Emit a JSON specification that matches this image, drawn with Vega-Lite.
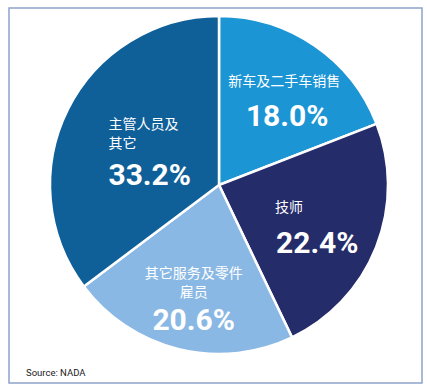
{
  "$schema": "https://vega.github.io/schema/vega-lite/v6.json",
  "width": 413,
  "height": 375,
  "padding": {"left": 8, "top": 7, "right": 6, "bottom": 5},
  "background": "white",
  "config": {"view": {"stroke": null}},
  "title": {
    "text": "Source: NADA",
    "orient": "bottom",
    "anchor": "start",
    "frame": "group",
    "offset": -16,
    "dx": 17,
    "font": "Roboto",
    "fontSize": 9.5,
    "letterSpacing": -0.6,
    "fontWeight": "normal",
    "color": "#1a1a1a"
  },
  "data": {
    "values": [
      {"idx": 1, "name": "新车及二手车销售", "v": 18.0, "pct": "18.0%"},
      {"idx": 2, "name": "技师", "v": 22.4, "pct": "22.4%"},
      {"idx": 3, "name": "其它服务及零件\n雇员", "v": 20.6, "pct": "20.6%"},
      {"idx": 4, "name": "主管人员及\n 其它", "v": 33.2, "pct": "33.2%"}
    ]
  },
  "layer": [
    {
      "data": {"values": [{}]},
      "mark": {"type": "rect", "fill": "transparent", "stroke": "#8ea3cc", "strokeWidth": 1.5},
      "encoding": {}
    },
    {
      "encoding": {
        "theta": {"field": "v", "type": "quantitative", "stack": true},
        "order": {"field": "idx", "type": "quantitative"}
      },
      "layer": [
        {
          "mark": {"type": "arc", "radius": 169, "stroke": "white", "strokeWidth": 2.5, "xOffset": 3.5, "yOffset": -10.5},
          "encoding": {
            "color": {
              "field": "name", "type": "nominal", "legend": null,
              "scale": {
                "domain": ["新车及二手车销售", "技师", "其它服务及零件\n雇员", "主管人员及\n 其它"],
                "range": ["#1b95d4", "#252c6a", "#8ab8e4", "#0f5f99"]
              }
            }
          }
        },
        {
          "mark": {"type": "text", "radius": 110, "xOffset": 3.5, "yOffset": -10.5, "dx": 3, "dy": -12, "align": "center", "baseline": "middle", "fill": "white", "font": "Noto Sans CJK SC", "fontSize": 14},
          "encoding": {"detail": {"field": "idx"}, "text": {"condition": {"test": "datum.idx === 1", "field": "name"}, "value": ""}}
        },
        {
          "mark": {"type": "text", "radius": 110, "xOffset": 3.5, "yOffset": -10.5, "dx": 6, "dy": 23, "align": "center", "baseline": "middle", "fill": "white", "font": "Roboto", "fontWeight": "bold", "fontSize": 30, "letterSpacing": -1.5},
          "encoding": {"detail": {"field": "idx"}, "text": {"condition": {"test": "datum.idx === 1", "field": "pct"}, "value": ""}}
        },
        {
          "mark": {"type": "text", "radius": 100, "xOffset": 3.5, "yOffset": -10.5, "dx": -37, "dy": -14, "align": "left", "baseline": "middle", "fill": "white", "font": "Noto Sans CJK SC", "fontSize": 14},
          "encoding": {"detail": {"field": "idx"}, "text": {"condition": {"test": "datum.idx === 2", "field": "name"}, "value": ""}}
        },
        {
          "mark": {"type": "text", "radius": 100, "xOffset": 3.5, "yOffset": -10.5, "dx": -36, "dy": 22, "align": "left", "baseline": "middle", "fill": "white", "font": "Roboto", "fontWeight": "bold", "fontSize": 30, "letterSpacing": -1.5},
          "encoding": {"detail": {"field": "idx"}, "text": {"condition": {"test": "datum.idx === 2", "field": "pct"}, "value": ""}}
        },
        {
          "mark": {"type": "text", "radius": 115, "xOffset": 3.5, "yOffset": -10.5, "dx": 2, "dy": -22.5, "align": "center", "baseline": "middle", "lineBreak": "\n", "lineHeight": 19, "fill": "white", "font": "Noto Sans CJK SC", "fontSize": 14},
          "encoding": {"detail": {"field": "idx"}, "text": {"condition": {"test": "datum.idx === 3", "field": "name"}, "value": ""}}
        },
        {
          "mark": {"type": "text", "radius": 115, "xOffset": 3.5, "yOffset": -10.5, "dx": 2, "dy": 24, "align": "center", "baseline": "middle", "fill": "white", "font": "Roboto", "fontWeight": "bold", "fontSize": 30, "letterSpacing": -1.5},
          "encoding": {"detail": {"field": "idx"}, "text": {"condition": {"test": "datum.idx === 3", "field": "pct"}, "value": ""}}
        },
        {
          "mark": {"type": "text", "radius": 80, "xOffset": 3.5, "yOffset": -10.5, "dx": -39, "dy": -24, "align": "left", "baseline": "middle", "lineBreak": "\n", "lineHeight": 19, "fill": "white", "font": "Noto Sans CJK SC", "fontSize": 14},
          "encoding": {"detail": {"field": "idx"}, "text": {"condition": {"test": "datum.idx === 4", "field": "name"}, "value": ""}}
        },
        {
          "mark": {"type": "text", "radius": 80, "xOffset": 3.5, "yOffset": -10.5, "dx": -39, "dy": 27, "align": "left", "baseline": "middle", "fill": "white", "font": "Roboto", "fontWeight": "bold", "fontSize": 30, "letterSpacing": -1.5},
          "encoding": {"detail": {"field": "idx"}, "text": {"condition": {"test": "datum.idx === 4", "field": "pct"}, "value": ""}}
        }
      ]
    }
  ]
}
